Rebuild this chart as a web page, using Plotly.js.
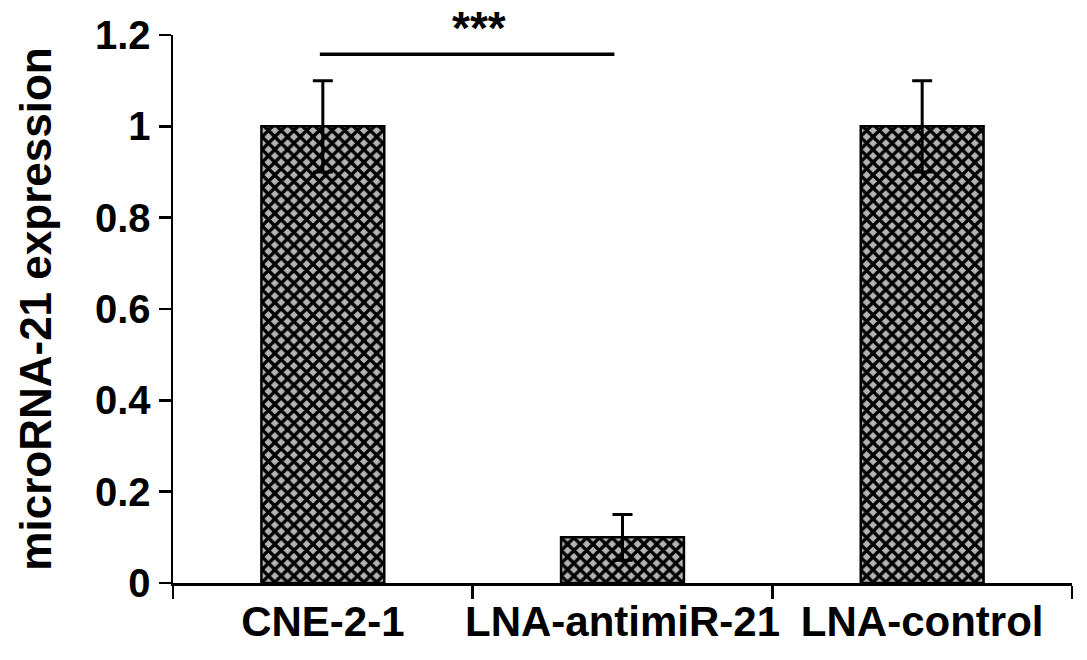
<!DOCTYPE html>
<html>
<head>
<meta charset="utf-8">
<script src="https://cdn.plot.ly/plotly-3.0.1.min.js"></script>
<style>html,body{margin:0;padding:0;background:#fff;}#chart{width:1087px;height:660px;}</style>
</head>
<body>
<div id="chart"></div>
<script>
const categories = ["CNE-2-1", "LNA-antimiR-21", "LNA-control"];
const values = [1.0, 0.1, 1.0];
const errors = [0.1, 0.05, 0.1];
const yTicks = [0, 0.2, 0.4, 0.6, 0.8, 1, 1.2];
const yTickLabels = ["0", "0.2", "0.4", "0.6", "0.8", "1", "1.2"];
const sigSpan = [-0.01, 0.973];
const sigLevel = 1.158;
const sigText = "***";
const yTitle = "microRNA-21 expression";

const font = "Liberation Sans, Arial, sans-serif";

const trace = {
  type: "bar",
  x: categories,
  y: values,
  width: 0.41,
  marker: {
    color: "#9a9a9a",
    line: {color: "#000", width: 2.5},
    pattern: {shape: "x", fgcolor: "#000", bgcolor: "#b4b4b4", size: 9, solidity: 0.6, fillmode: "replace"}
  },
  error_y: {type: "data", array: errors, visible: true, color: "#000", thickness: 3, width: 10},
  hoverinfo: "skip"
};

const layout = {
  width: 1087, height: 660,
  margin: {l: 173, r: 15, t: 35, b: 77},
  paper_bgcolor: "#fff", plot_bgcolor: "#fff",
  showlegend: false,
  font: {family: font, color: "#000"},
  xaxis: {
    type: "category",
    range: [-0.5, 2.5],
    showline: true, linecolor: "#000", linewidth: 2.5,
    ticks: "outside", tickson: "boundaries", ticklen: 13, tickwidth: 2.5, tickcolor: "#000",
    tickangle: 0, automargin: false,
    showgrid: false, zeroline: false,
    tickfont: {family: font, size: 42, color: "#000", weight: "bold"}
  },
  yaxis: {
    range: [0, 1.2],
    tickvals: yTicks, ticktext: yTickLabels,
    showline: true, linecolor: "#000", linewidth: 2.5,
    ticks: "outside", ticklen: 12, tickwidth: 2.5, tickcolor: "#000",
    showgrid: false, zeroline: false, automargin: false,
    tickfont: {family: font, size: 40, color: "#000", weight: "bold"},
    title: {text: "<b>" + yTitle + "</b>", font: {family: font, size: 44, color: "#000"}, standoff: 30}
  },
  shapes: [{
    type: "line", xref: "x", yref: "y",
    x0: sigSpan[0], x1: sigSpan[1], y0: sigLevel, y1: sigLevel,
    line: {color: "#000", width: 3.5}
  }],
  annotations: [{
    xref: "x", yref: "paper",
    x: 0.52, y: 1.0639,
    yanchor: "top",
    text: "<b>" + sigText + "</b>", showarrow: false,
    font: {family: font, size: 46, color: "#000"}
  }]
};

Plotly.newPlot("chart", [trace], layout, {staticPlot: true, displayModeBar: false});
</script>
</body>
</html>
